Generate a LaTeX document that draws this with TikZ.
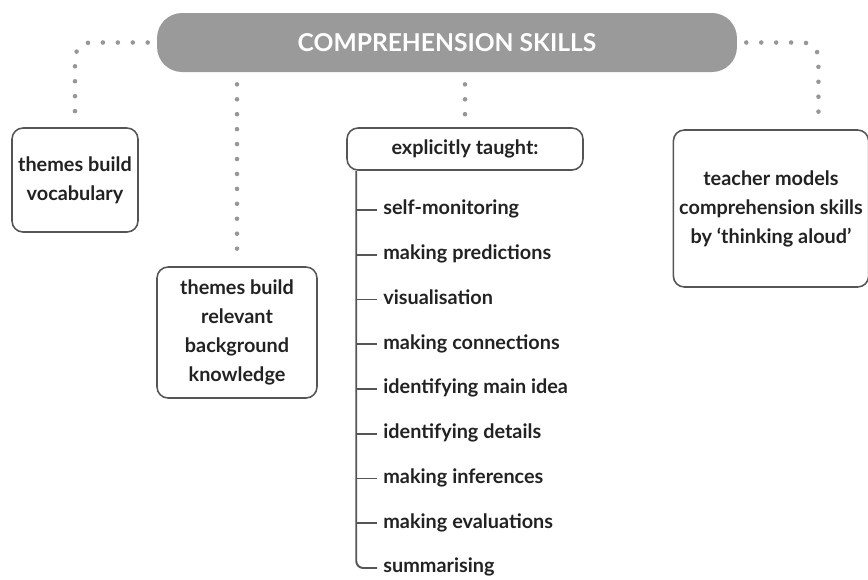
\documentclass[tikz,border=0pt]{standalone}
\usepackage{fontspec}
\setmainfont{Lato}
\usepackage{xcolor}
\usepackage{tikz}

\definecolor{bargray}{HTML}{9A9A9A}
\definecolor{dotgray}{HTML}{979797}
\definecolor{edgegray}{HTML}{555555}
\definecolor{inkgray}{HTML}{222222}

\begin{document}
\begin{tikzpicture}[x=0.02cm, y=-0.02cm,
    every node/.style={font=\fontsize{11.3}{16.5}\selectfont\bfseries, text=inkgray},
    topbar/.style={fill=bargray, rounded corners=0.5cm, minimum width=11.6cm, minimum height=1.18cm,
        text=white, font=\fontsize{14}{16}\selectfont\bfseries},
    ideabox/.style={draw=edgegray, line width=0.9pt, rounded corners=0.22cm, align=center},
    dotline/.style={dotgray, line width=2.6pt, line cap=round, dash pattern=on 0pt off 8.5pt},
    treeline/.style={edgegray, line width=1.1pt},
    skill/.style={anchor=west, inner sep=0pt, text height=1.6ex, text depth=0.5ex}]

    \useasboundingbox (0,0) rectangle (868,579);

    \node[topbar] (title) at (447,42.5) {COMPREHENSION SKILLS};

    \node[ideabox, minimum width=2.52cm, minimum height=2.08cm] (vocab) at (75,180) {themes build\\vocabulary};
    \node[ideabox, minimum width=3.2cm, minimum height=2.62cm] (backgr) at (237,332.5) {themes build\\relevant\\background\\knowledge};
    \node[ideabox, minimum width=4.72cm, minimum height=0.84cm] (taught) at (465,149) {explicitly taught:};
    \node[ideabox, minimum width=3.9cm, minimum height=3.14cm] (model) at (771,208.5) {teacher models\\comprehension skills\\by `thinking aloud'};

    % dotted links from the title bar
    \draw[dotline, rounded corners=0.32cm] ([xshift=-0.18cm]title.west) -| ([yshift=0.16cm]vocab.north);
    \draw[dotline, rounded corners=0.32cm] ([xshift=0.18cm]title.east) -| ([xshift=-1.02cm, yshift=0.16cm]model.north east);
    \draw[dotline] ([yshift=-0.24cm]title.south -| backgr.north) -- ([yshift=0.16cm]backgr.north);
    \draw[dotline] ([yshift=-0.24cm]title.south -| taught.north) -- ([yshift=0.16cm]taught.north);

    % list of taught skills
    \coordinate (trunk) at ([xshift=0.2cm]taught.south west);
    \foreach \skl [count=\i] in {self-monitoring, making predictions, visualisation, making connections,
        identifying main idea, identifying details, making inferences, making evaluations, summarising}
        \node[skill] (sk\i) at (383,{210+44.75*(\i-1)}) {\skl};
    \foreach \i in {1,...,8}
        \draw[treeline] (trunk |- sk\i.west) -- ([xshift=-0.12cm]sk\i.west);
    \draw[treeline, rounded corners=0.14cm] (trunk) |- ([xshift=-0.12cm]sk9.west);
\end{tikzpicture}
\end{document}
